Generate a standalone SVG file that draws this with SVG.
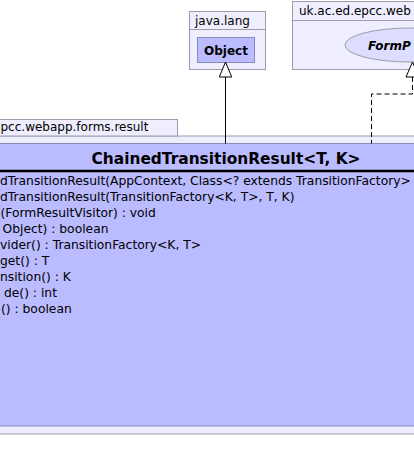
<svg xmlns="http://www.w3.org/2000/svg" width="414" height="472" viewBox="0 0 414 472">
<defs>
<style>
.pkg{fill:#EEEEFF;stroke:#9C9CAC;stroke-width:1}
.cls{fill:#BBBBFF;stroke:#8A8AB8;stroke-width:1}
.t{font-family:"DejaVu Sans","Liberation Sans",sans-serif;font-size:12px;fill:#000}
.m{font-size:12.3px}
.b{font-weight:bold}
.edge{fill:none;stroke:#000;stroke-width:1}
.head{fill:#fff;stroke:#000;stroke-width:1}
</style>
</defs>
<rect width="414" height="472" fill="#fff"/>
<g id="pkg-java-lang">
<rect class="pkg" x="189.5" y="11.5" width="76" height="58"/>
<line x1="189.5" y1="29.5" x2="265.5" y2="29.5" stroke="#9C9CAC"/>
<text class="t" x="195" y="25">java.lang</text>
</g>
<g id="Object">
<rect class="cls" x="197.5" y="37.5" width="57" height="25"/>
<text class="t b" x="226" y="55" text-anchor="middle">Object</text>
</g>
<g id="pkg-uk-ac-ed-epcc-web">
<rect class="pkg" x="292.5" y="1.5" width="130" height="68"/>
<line x1="292.5" y1="20.5" x2="422" y2="20.5" stroke="#9C9CAC"/>
<text class="t" x="299" y="15">uk.ac.ed.epcc.web</text>
</g>
<g id="FormResult">
<ellipse cx="410" cy="45" rx="65" ry="17" fill="#DDDDFF" stroke="#9C9CAC"/>
<text class="t b" x="368" y="50" font-style="italic">FormP</text>
</g>
<g id="pkg-forms-result">
<rect class="pkg" x="-10" y="136" width="434" height="298"/>
<rect class="pkg" x="-10" y="119.5" width="187.5" height="16.5"/>
<text class="t" x="0.5" y="131">pcc.webapp.forms.result</text>
</g>
<g id="ChainedTransitionResult">
<rect class="cls" x="-10" y="143.5" width="434" height="282.5"/>
<text class="t b" x="226" y="164" text-anchor="middle" style="font-size:15.4px">ChainedTransitionResult&lt;T, K&gt;</text>
<line x1="-10" y1="171" x2="424" y2="171" stroke="#000" stroke-width="2.5"/>
<text class="t m" x="0" y="184.5">dTransitionResult(AppContext, Class&lt;? extends TransitionFactory&gt;</text>
<text class="t m" x="0" y="200.5">dTransitionResult(TransitionFactory&lt;K, T&gt;, T, K)</text>
<text class="t m" x="0.5" y="216.5">(FormResultVisitor) : void</text>
<text class="t m" x="2.5" y="232.5">Object) : boolean</text>
<text class="t m" x="0" y="248.5">vider() : TransitionFactory&lt;K, T&gt;</text>
<text class="t m" x="0" y="264.5">get() : T</text>
<text class="t m" x="0" y="280.5">nsition() : K</text>
<text class="t m" x="4" y="296.5">de() : int</text>
<text class="t m" x="1" y="312.5">() : boolean</text>
</g>
<g id="connectors">
<line class="edge" x1="225.5" y1="77" x2="225.5" y2="143.5"/>
<polygon class="head" points="225.5,62 219.3,77 231.7,77"/>
<path class="edge" d="M412.5,77 V94 H371.5 V143.5" stroke-dasharray="5,3"/>
<polygon class="head" points="412.5,62 406,77 419,77"/>
</g>
</svg>
